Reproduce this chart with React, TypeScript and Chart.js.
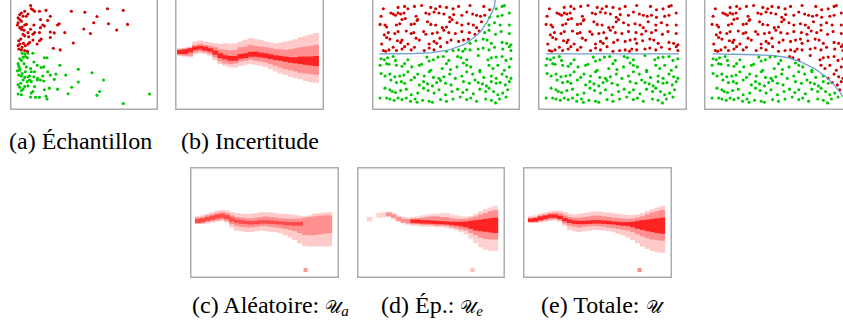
import React, { useEffect, useRef } from "react";
import { Chart, registerables } from "chart.js";

Chart.register(...registerables);

// ---------- Panel (a): sample points (picture coords, y downward) ----------
const A_RED: [number, number][] = [
  [88,12],[95,25],[90,22],[100,30],[135,27],[115,30],[212,30],[253,33],[322,22],[370,27],
  [148,45],[290,46],[280,65],[325,68],[383,70],[250,84],[350,87],[270,98],[175,68],[170,72],
  [192,95],[218,127],[157,143],[178,148],[148,93],[160,96],[148,110],[120,115],[115,120],[108,130],
  [98,72],[95,100],[80,95],[75,70],[60,60],[50,50],[55,40],[60,35],[70,30],[80,38],
  [65,45],[75,45],[50,65],[55,80],[60,85],[65,100],[70,105],[58,115],[55,130],[50,135],
  [62,140],[70,150],[78,152],[85,125],[80,130],[72,135],[100,95],[88,85],[118,55],[125,72],
  [130,75],[115,95],[140,58],[118,80],[52,120],[55,55],[48,72],[62,78],[70,72],[68,88],
  [82,108],[95,118],[66,128],[60,148],[52,145]
];
const A_GREEN: [number, number][] = [
  [62,158],[70,160],[80,158],[95,158],[55,175],[60,180],[65,170],[72,168],[78,172],[50,190],
  [52,198],[55,205],[48,212],[52,225],[60,228],[70,232],[80,230],[85,240],[90,245],[78,245],
  [65,240],[58,250],[50,255],[55,262],[60,272],[65,268],[70,260],[80,258],[95,275],[90,280],
  [50,283],[60,285],[88,292],[103,293],[115,293],[135,290],[138,298],[130,270],[145,265],[100,260],
  [110,235],[118,240],[128,243],[125,228],[140,215],[148,225],[160,238],[165,222],[170,268],[195,225],
  [177,195],[130,172],[138,172],[98,185],[108,195],[120,202],[128,200],[90,215],[98,230],[108,240],
  [75,200],[68,190],[55,210],[233,207],[275,218],[233,246],[213,262],[310,240],[298,275],[290,287],
  [202,282],[370,312],[450,283],[88,205],[100,215],[72,215],[62,220],[85,228]
];

// ---------- Panels 3-5: one shared point set, classified by each boundary ----------
const GRID_POINTS: [number, number][] = [
  [55,22],[100,18],[120,15],[130,22],[150,15],[172,12],[200,18],[215,22],[228,15],[248,18],[268,22],[285,15],[320,12],[362,15],[380,25],[400,22],[418,15],[425,12],
  [48,45],[78,35],[85,38],[92,42],[100,35],[108,38],[118,35],[155,45],[160,55],[185,35],[195,38],[210,32],[225,35],[240,38],[258,48],[270,40],[295,42],[310,32],[328,38],[340,42],[352,45],[365,42],[380,48],[405,45],[418,42],[440,35],
  [45,70],[60,72],[65,78],[95,72],[105,68],[112,55],[122,52],[140,70],[150,68],[158,58],[190,62],[200,70],[215,72],[235,80],[248,78],[258,62],[265,55],[280,65],[295,72],[315,68],[330,72],[340,80],[355,62],[378,72],[395,65],[412,72],[440,72],
  [58,102],[70,95],[90,98],[100,92],[125,90],[140,98],[148,95],[178,92],[185,100],[205,98],[220,95],[240,88],[255,95],[275,98],[295,92],[318,95],[335,100],[348,90],[365,95],[378,88],[398,100],[415,92],[440,98],
  [65,110],[75,115],[98,120],[108,125],[112,118],[130,130],[155,112],[165,118],[195,130],[210,122],[218,128],[228,112],[250,125],[262,118],[285,122],[300,118],[315,115],[320,128],[338,120],[360,115],[372,118],[385,128],[418,125],[432,128],[445,132],
  [50,130],[55,150],[62,152],[72,148],[85,140],[95,150],[112,145],[120,138],[140,148],[150,140],[180,150],[195,142],[210,148],[230,138],[248,152],[268,150],[285,148],[298,152],[305,145],[320,148],[345,145],[360,142],[378,148],[395,140],[420,145],[440,138],[445,150],
  [48,175],[58,178],[68,172],[85,168],[92,180],[130,178],[188,170],[195,182],[208,178],[222,170],[238,168],[255,180],[282,168],[292,172],[310,178],[345,165],[375,178],[385,172],[400,170],[418,168],[430,180],[445,175],
  [45,195],[65,190],[72,192],[95,195],[112,198],[120,190],[142,200],[165,195],[172,192],[200,210],[235,205],[248,190],[260,208],[280,200],[300,188],[310,195],[322,200],[350,210],[378,195],[390,205],[405,195],[425,210],[440,200],
  [48,220],[60,228],[75,222],[90,230],[105,228],[118,225],[130,215],[150,232],[160,222],[180,228],[195,215],[208,232],[225,235],[240,230],[258,222],[275,235],[295,228],[310,215],[328,222],[350,215],[362,232],[385,228],[400,235],[418,222],[432,230],[445,235],
  [78,240],[95,248],[110,245],[120,250],[140,240],[165,255],[178,245],[190,252],[205,258],[218,248],[230,242],[245,250],[262,255],[300,245],[318,250],[335,240],[345,248],[358,252],[370,258],[385,245],[400,250],[412,248],[428,255],[440,245],
  [60,265],[75,270],[82,275],[92,278],[108,272],[125,268],[140,285],[160,280],[178,265],[192,272],[210,280],[225,270],[245,285],[265,275],[282,268],[298,278],[310,270],[330,282],[350,268],[368,275],[378,265],[392,275],[405,285],[420,280],[435,270],
  [45,295],[65,295],[75,298],[88,302],[100,295],[112,300],[125,295],[138,305],[152,298],[158,308],[175,302],[195,305],[205,308],[230,300],[248,305],[268,298],[290,292],[310,300],[322,295],[340,305],[368,298],[385,302],[398,310],[410,298],[430,292]
];
const BOUNDARY_3: [number, number][] = [[43,160],[150,159],[203,156],[253,149],[303,131],[333,109],[353,91],[373,61],[388,31],[395,13],[397,-6]];
const BOUNDARY_4: [number, number][] = [[45,160],[448,160]];
const BOUNDARY_5: [number, number][] = [[46,160],[148,162],[228,165],[278,172],[318,185],[358,205],[393,230],[418,255],[438,280],[445,292]];

// ---------- Uncertainty bands (column centres relative to frame; y picture coords) ----------
const COLS = [15,30,45,60,75,90,105,120,135,150,165,180,195,210,225,240,255,270,285,300,315,330,345,360,375,390,405,420];
const N = null;

const B_LIGHT_LO = [145,143,140,125,122,125,128,130,132,130,132,130,125,120,115,118,120,125,128,130,128,125,122,118,112,108,104,100];
const B_LIGHT_HI = [165,168,170,160,158,160,165,178,190,195,200,200,195,192,190,192,195,198,205,212,218,222,228,232,235,240,244,246];
const B_MID_LO = [148,146,143,135,132,135,138,142,148,150,152,150,142,140,135,138,140,142,145,148,148,150,148,145,142,140,138,135];
const B_MID_HI = [162,165,165,155,152,155,160,170,182,188,190,188,182,180,176,180,182,185,190,195,200,205,208,212,216,218,220,222];
const B_DARK_LO = [150,148,145,140,138,140,145,152,160,166,168,168,162,160,156,155,158,160,163,166,168,170,172,172,170,170,170,168];
const B_DARK_HI = [160,160,155,148,146,150,153,162,172,176,180,180,174,172,168,168,170,172,175,178,180,183,186,188,190,192,194,196];

const C_LIGHT_LO = [168,165,160,155,150,148,150,155,158,160,160,160,158,155,155,156,158,160,160,162,164,166,168,165,160,158,156,155];
const C_LIGHT_HI = [190,190,188,185,182,180,185,200,210,212,215,215,212,210,212,214,215,218,225,232,240,250,258,260,260,260,260,260];
const C_MID_LO = [172,170,165,162,158,155,158,165,170,172,174,175,172,170,168,170,172,174,175,176,176,175,172,170,168,166,165,165];
const C_MID_HI = [188,186,182,180,178,175,180,190,195,198,200,200,198,196,196,198,200,202,205,208,212,218,224,225,224,222,220,218];
const C_DARK_LO = [176,174,170,166,162,160,164,172,178,180,182,183,182,180,180,181,182,184,185,186,186,185,N,N,N,N,N,N];
const C_DARK_HI = [186,184,180,176,172,170,174,182,186,189,190,191,190,188,188,189,190,191,193,194,195,195,N,N,N,N,N,N];

const D_LIGHT_LO = [N,170,N,157,155,153,158,165,170,172,170,168,165,162,160,160,158,158,162,165,168,168,166,160,152,145,140,135];
const D_LIGHT_HI = [N,182,N,170,168,168,175,182,188,192,195,196,198,198,198,200,200,202,206,210,215,222,235,250,262,270,274,275];
const D_MID_LO = [N,N,N,N,N,156,162,170,175,176,175,174,172,170,168,168,170,170,174,176,176,175,172,168,162,157,152,148];
const D_MID_HI = [N,N,N,N,N,165,170,180,185,188,190,190,192,192,193,195,195,196,200,203,207,210,218,225,232,236,238,238];
const D_DARK_LO = [N,N,N,N,N,N,N,N,N,N,178,178,180,180,181,182,183,184,185,185,185,184,182,180,178,176,174,172];
const D_DARK_HI = [N,N,N,N,N,N,N,N,N,N,186,187,188,188,189,190,190,191,193,195,197,200,205,210,212,214,216,218];

const E_LIGHT_LO = [168,165,160,156,153,150,150,155,160,162,160,158,155,153,153,155,156,158,160,162,164,164,162,158,152,146,140,135];
const E_LIGHT_HI = [186,186,185,182,180,178,182,195,208,212,215,212,210,208,208,210,212,215,220,225,232,240,250,260,268,274,278,280];
const E_MID_LO = [172,170,165,162,158,156,158,165,170,172,172,170,168,166,166,168,170,172,174,175,176,175,172,168,162,156,152,148];
const E_MID_HI = [184,184,180,178,175,174,178,188,195,198,200,198,196,195,196,198,200,202,205,208,210,215,222,228,234,238,240,242];
const E_DARK_LO = [175,173,168,165,162,162,166,173,178,181,182,182,181,180,180,181,182,184,185,186,186,185,182,180,178,176,174,172];
const E_DARK_HI = [183,182,178,174,170,170,174,181,186,189,190,190,189,188,188,189,190,191,193,195,196,200,205,208,212,215,218,220];

// isolated cells
const C_CELL = [{ x: 347, y: 335 }];
const D_CELL = [{ x: 349, y: 335 }];
const E_CELL = [{ x: 350, y: 335 }];

// ---------- styles ----------
const RED = "rgb(208,0,0)";
const GREEN = "rgb(0,200,0)";
const LINE = "rgb(110,160,210)";
const LIGHT = "#ffcaca";
const MID = "#ff9090";
const DARK = "#ff2424";
const FRAME = "#adadad";

const framePlugin = {
  id: "frame",
  afterDraw(chart: any) {
    const { ctx, width, height } = chart;
    ctx.save();
    ctx.strokeStyle = FRAME;
    ctx.lineWidth = 1.5;
    ctx.strokeRect(0.75, 0.75, width - 1.5, height - 1.5);
    ctx.restore();
  },
};

function baseOptions(xmin: number, xmax: number, ymin: number, ymax: number) {
  return {
    animation: false,
    responsive: false,
    devicePixelRatio: 1,
    layout: { padding: 0 },
    plugins: { legend: { display: false }, tooltip: { enabled: false }, title: { display: false } },
    scales: {
      x: { type: "linear", display: false, min: xmin, max: xmax, offset: false },
      y: { type: "linear", display: false, min: ymin, max: ymax, reverse: true },
    },
  };
}

const toXY = (pts: [number, number][]) => pts.map(([x, y]) => ({ x, y }));

function boundaryAt(b: [number, number][], x: number) {
  if (x <= b[0][0]) return b[0][1];
  for (let i = 1; i < b.length; i++) {
    if (x <= b[i][0]) {
      const [x0, y0] = b[i - 1];
      const [x1, y1] = b[i];
      return y0 + ((y1 - y0) * (x - x0)) / (x1 - x0);
    }
  }
  return b[b.length - 1][1];
}

function pointDs(pts: { x: number; y: number }[], color: string) {
  return {
    data: pts,
    backgroundColor: color,
    borderWidth: 0,
    pointRadius: 1.55,
    pointHoverRadius: 1.55,
  };
}

function scatterA() {
  return {
    type: "scatter",
    data: { datasets: [pointDs(toXY(A_RED), RED), pointDs(toXY(A_GREEN), GREEN)] },
    options: baseOptions(30, 471, -6, 327),
    plugins: [framePlugin],
  };
}

function scatterGrid(boundary: [number, number][]) {
  const red = GRID_POINTS.filter(([x, y]) => y < boundaryAt(boundary, x));
  const green = GRID_POINTS.filter(([x, y]) => y >= boundaryAt(boundary, x));
  return () => ({
    type: "scatter",
    data: {
      datasets: [
        {
          data: toXY(boundary),
          showLine: true,
          borderColor: LINE,
          borderWidth: 1.3,
          pointRadius: 0,
          tension: 0,
          fill: false,
        },
        pointDs(toXY(red), RED),
        pointDs(toXY(green), GREEN),
      ],
    },
    options: baseOptions(25, 468, -6, 327),
    plugins: [framePlugin],
  });
}

function band(lo: (number | null)[], hi: (number | null)[], color: string) {
  const data: any[] = [];
  COLS.forEach((x, i) => {
    if (lo[i] != null && hi[i] != null) data.push({ x, y: [lo[i], hi[i]] });
  });
  return {
    type: "bar",
    data,
    backgroundColor: color,
    borderWidth: 0,
    grouped: false,
    barPercentage: 1,
    categoryPercentage: 1,
    inflateAmount: 0.4,
  };
}

function bandChart(
  layers: [(number | null)[], (number | null)[], string][],
  cell: { x: number; y: number }[] | null,
  cellColor: string,
  ymin: number,
  ymax: number,
  xmax: number
) {
  return () => {
    const datasets: any[] = [];
    if (cell) {
      datasets.push({
        type: "scatter",
        data: cell,
        pointStyle: "rect",
        pointRadius: 2.9,
        pointHoverRadius: 2.9,
        backgroundColor: cellColor,
        borderWidth: 0,
      });
    }
    // first dataset is drawn on top, so innermost layer first
    for (const [lo, hi, c] of layers) datasets.push(band(lo, hi, c));
    return {
      type: "bar",
      data: { datasets },
      options: baseOptions(0, xmax, ymin, ymax),
      plugins: [framePlugin],
    };
  };
}

const configB = bandChart(
  [[B_DARK_LO, B_DARK_HI, DARK], [B_MID_LO, B_MID_HI, MID], [B_LIGHT_LO, B_LIGHT_HI, LIGHT]],
  null, "", -6, 328, 444
);
const configC = bandChart(
  [[C_DARK_LO, C_DARK_HI, "#ff4a4a"], [C_MID_LO, C_MID_HI, MID], [C_LIGHT_LO, C_LIGHT_HI, LIGHT]],
  C_CELL, "#ff9a9a", 21, 351, 441
);
const configD = bandChart(
  [[D_DARK_LO, D_DARK_HI, DARK], [D_MID_LO, D_MID_HI, MID], [D_LIGHT_LO, D_LIGHT_HI, "#ffd2d2"]],
  D_CELL, "#ffbcbc", 21, 351, 441
);
const configE = bandChart(
  [[E_DARK_LO, E_DARK_HI, DARK], [E_MID_LO, E_MID_HI, MID], [E_LIGHT_LO, E_LIGHT_HI, LIGHT]],
  E_CELL, "#ff8a8a", 21, 351, 441
);

function Panel(props: { left: number; top: number; width: number; height: number; config: () => any }) {
  const ref = useRef<HTMLCanvasElement | null>(null);
  useEffect(() => {
    if (!ref.current) return;
    const chart = new Chart(ref.current, props.config());
    return () => chart.destroy();
  }, []);
  return (
    <canvas
      ref={ref}
      width={props.width}
      height={props.height}
      style={{ position: "absolute", left: props.left, top: props.top, width: props.width, height: props.height }}
    />
  );
}

const captionStyle: React.CSSProperties = {
  position: "absolute",
  fontFamily: '"Liberation Serif", "Times New Roman", Tinos, "DejaVu Serif", serif',
  fontSize: 24,
  lineHeight: "24px",
  whiteSpace: "nowrap",
  color: "#000",
};

function U(props: { sub?: string }) {
  return (
    <span>
      <span style={{ fontFamily: '"DejaVu Serif", "DejaVu Sans", serif', fontSize: 18 }}>𝒰</span>
      {props.sub ? (
        <span style={{ fontStyle: "italic", fontSize: 15, position: "relative", top: 3 }}>{props.sub}</span>
      ) : null}
    </span>
  );
}

export default function App() {
  return (
    <div style={{ position: "fixed", left: 0, top: 0, width: 843, height: 326, overflow: "hidden", background: "#fff" }}>
      <Panel left={10} top={-2} width={148} height={112} config={scatterA} />
      <Panel left={175} top={-2} width={149} height={112} config={configB} />
      <Panel left={372} top={-2} width={148} height={112} config={scatterGrid(BOUNDARY_3)} />
      <Panel left={538} top={-2} width={149} height={112} config={scatterGrid(BOUNDARY_4)} />
      <Panel left={704} top={-2} width={148} height={112} config={scatterGrid(BOUNDARY_5)} />
      <Panel left={190} top={167} width={149} height={111} config={configC} />
      <Panel left={357} top={167} width={148} height={111} config={configD} />
      <Panel left={523} top={167} width={149} height={111} config={configE} />

      <div style={{ ...captionStyle, left: 9, top: 129 }}>(a) Échantillon</div>
      <div style={{ ...captionStyle, left: 181, top: 129 }}>(b) Incertitude</div>
      <div style={{ ...captionStyle, left: 192, top: 293 }}>
        (c) Aléatoire: <U sub="a" />
      </div>
      <div style={{ ...captionStyle, left: 381, top: 293 }}>
        (d) Ép.: <U sub="e" />
      </div>
      <div style={{ ...captionStyle, left: 541, top: 293 }}>
        (e) Totale: <U />
      </div>
    </div>
  );
}
